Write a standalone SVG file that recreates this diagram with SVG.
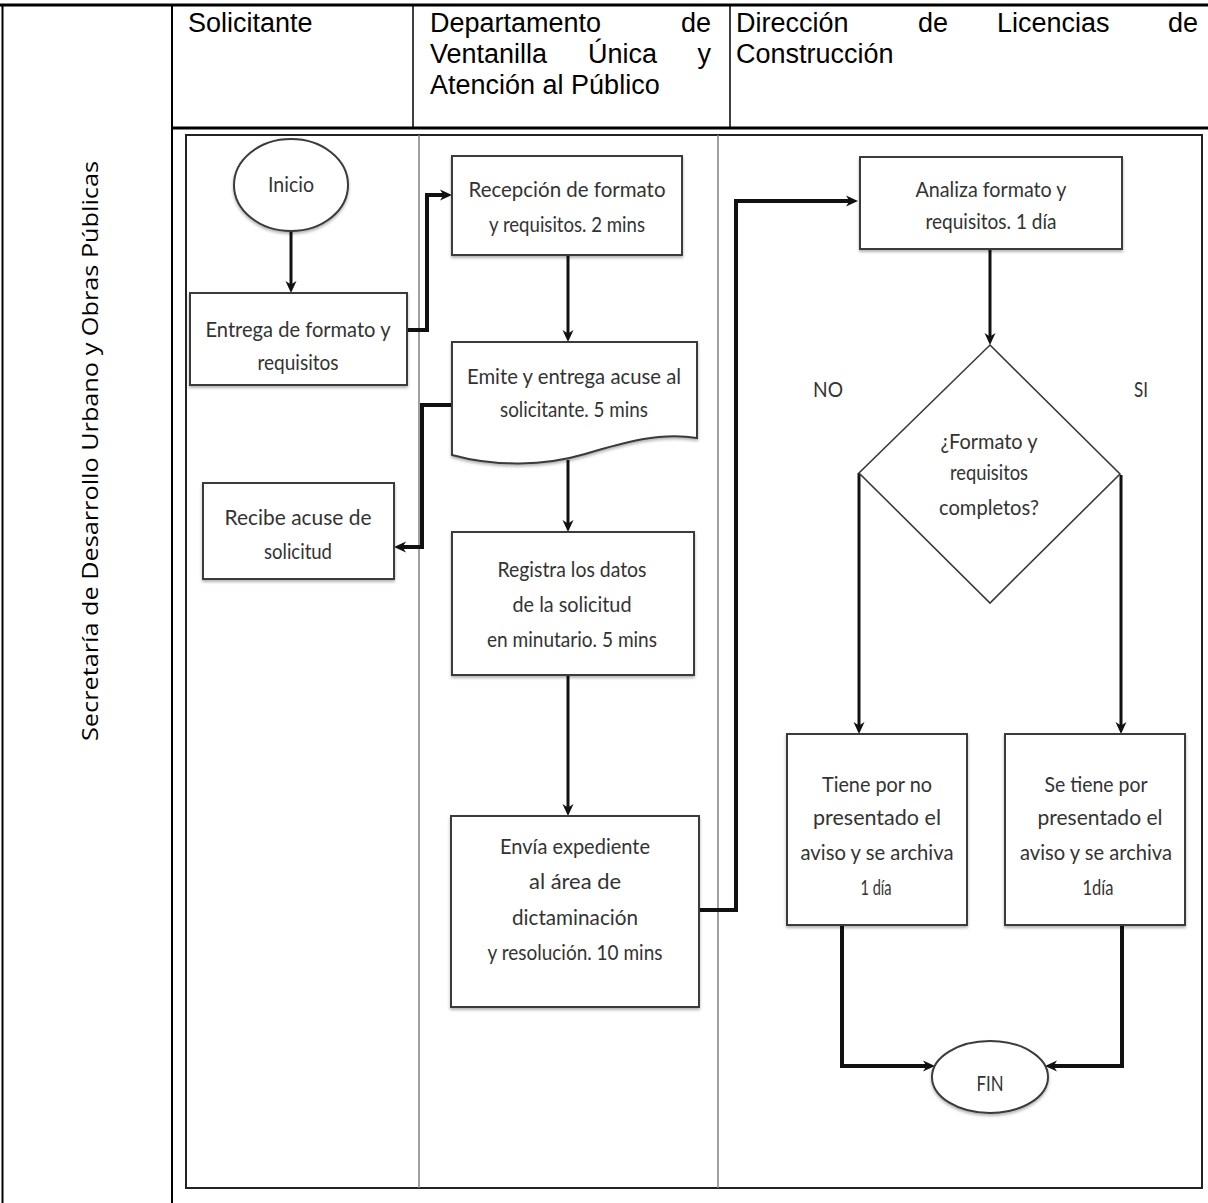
<svg xmlns="http://www.w3.org/2000/svg" width="1208" height="1203" viewBox="0 0 1208 1203">
<defs>
<style>
.hdr{font-family:"Liberation Sans",Arial,sans-serif;font-size:27px;fill:#000}
.side{font-family:"Open Sans","Noto Sans",sans-serif;font-size:22px;fill:#000}
.t{font-family:Lato,"Open Sans",sans-serif;font-size:21px;fill:#333;text-anchor:middle}
.box{fill:#fff;stroke:#3a3a3a;stroke-width:2;filter:url(#sh)}
.dia{fill:#fff;stroke:#3a3a3a;stroke-width:1.6}
.grid{stroke:#000;fill:none}
.lane{stroke:#808080;stroke-width:1.5;fill:none}
.c{fill:none;stroke:#111;stroke-width:4;marker-end:url(#ah)}
.v{fill:none;stroke:#111;stroke-width:3;marker-end:url(#ah)}
</style>
<filter id="sh" x="-10%" y="-10%" width="120%" height="130%">
<feDropShadow dx="0" dy="2" stdDeviation="1.5" flood-color="#000" flood-opacity="0.3"/>
</filter>
<marker id="ah" viewBox="0 0 12 12" refX="6" refY="6" markerWidth="12" markerHeight="12" markerUnits="userSpaceOnUse" orient="auto">
<path d="M0,0.5 L12,6 L0,11.5 L3.5,6 Z" fill="#111"/>
</marker>
</defs>
<rect width="1208" height="1203" fill="#fff"/>

<g id="table">
<line class="grid" x1="0" y1="5" x2="1208" y2="5" stroke-width="3"/>
<line class="grid" x1="2.5" y1="4" x2="2.5" y2="1203" stroke-width="2"/>
<line class="grid" x1="172" y1="4" x2="172" y2="1203" stroke-width="2"/>
<line class="grid" x1="413" y1="5" x2="413" y2="128" stroke-width="1.5"/>
<line class="grid" x1="730" y1="5" x2="730" y2="128" stroke-width="1.5"/>
<line class="grid" x1="171" y1="128" x2="1208" y2="128" stroke-width="3"/>
</g>

<g id="header">
<text class="hdr" x="188" y="32">Solicitante</text>
<text class="hdr" x="430" y="32">Departamento</text>
<text class="hdr" x="711" y="32" text-anchor="end">de</text>
<text class="hdr" x="430" y="63">Ventanilla</text>
<text class="hdr" x="588" y="63">Única</text>
<text class="hdr" x="711" y="63" text-anchor="end">y</text>
<text class="hdr" x="430" y="94">Atención al Público</text>
<text class="hdr" x="736" y="32">Dirección</text>
<text class="hdr" x="918" y="32">de</text>
<text class="hdr" x="997" y="32">Licencias</text>
<text class="hdr" x="1198" y="32" text-anchor="end">de</text>
<text class="hdr" x="736" y="63">Construcción</text>
</g>

<g id="side-label">
<text class="side" x="98" y="451" text-anchor="middle" transform="rotate(-90 98 451)" textLength="580" lengthAdjust="spacingAndGlyphs">Secretaría de Desarrollo Urbano y Obras Públicas</text>
</g>

<g id="frame">
<rect x="186" y="135" width="1016" height="1053" fill="none" stroke="#222" stroke-width="2"/>
<line class="lane" x1="419" y1="135" x2="419" y2="1188"/>
<line class="lane" x1="718" y1="135" x2="718" y2="1188"/>
</g>

<g id="connectors">
<path class="v" d="M291,231 V287"/>
<path class="c" d="M407,330 H427 V195 H446"/>
<path class="v" d="M568,255 V336"/>
<path class="c" d="M452,405 H422 V547 H400"/>
<path class="v" d="M568,460 V526"/>
<path class="v" d="M568,675 V810"/>
<path class="c" d="M699,910 H736 V201 H852"/>
<path class="v" d="M990,249 V339"/>
<path class="v" d="M859,473 V728"/>
<path class="v" d="M1121,475 V728"/>
<path class="c" d="M842,925 V1066 H929"/>
<path class="c" d="M1122,925 V1066 H1051"/>
</g>

<g id="inicio">
<ellipse class="box" cx="291" cy="185" rx="57" ry="46"/>
<text class="t" x="291" y="192" textLength="46" lengthAdjust="spacingAndGlyphs">Inicio</text>
</g>

<g id="entrega">
<rect class="box" x="190" y="293" width="217" height="92"/>
<text class="t" x="298" y="337" textLength="185" lengthAdjust="spacingAndGlyphs">Entrega de formato y</text>
<text class="t" x="298" y="370" textLength="81" lengthAdjust="spacingAndGlyphs">requisitos</text>
</g>

<g id="recepcion">
<rect class="box" x="452" y="156" width="230" height="99"/>
<text class="t" x="567" y="197" textLength="197" lengthAdjust="spacingAndGlyphs">Recepción de formato</text>
<text class="t" x="567" y="232" textLength="156" lengthAdjust="spacingAndGlyphs">y requisitos. 2 mins</text>
</g>

<g id="emite">
<path class="box" d="M452,342 H697 V438 C660,432 625,442 585,454 C545,466 495,467 452,455 Z"/>
<text class="t" x="574" y="384" textLength="214" lengthAdjust="spacingAndGlyphs">Emite y entrega acuse al</text>
<text class="t" x="574" y="417" textLength="148" lengthAdjust="spacingAndGlyphs">solicitante. 5 mins</text>
</g>

<g id="recibe">
<rect class="box" x="203" y="483" width="191" height="96"/>
<text class="t" x="298" y="525" textLength="147" lengthAdjust="spacingAndGlyphs">Recibe acuse de</text>
<text class="t" x="298" y="559" textLength="68" lengthAdjust="spacingAndGlyphs">solicitud</text>
</g>

<g id="registra">
<rect class="box" x="452" y="532" width="242" height="143"/>
<text class="t" x="572" y="577" textLength="149" lengthAdjust="spacingAndGlyphs">Registra los datos</text>
<text class="t" x="572" y="612" textLength="119" lengthAdjust="spacingAndGlyphs">de la solicitud</text>
<text class="t" x="572" y="647" textLength="170" lengthAdjust="spacingAndGlyphs">en minutario. 5 mins</text>
</g>

<g id="envia">
<rect class="box" x="451" y="816" width="248" height="191"/>
<text class="t" x="575" y="854" textLength="150" lengthAdjust="spacingAndGlyphs">Envía expediente</text>
<text class="t" x="575" y="889" textLength="92" lengthAdjust="spacingAndGlyphs">al área de</text>
<text class="t" x="575" y="925" textLength="126" lengthAdjust="spacingAndGlyphs">dictaminación</text>
<text class="t" x="575" y="960" textLength="175" lengthAdjust="spacingAndGlyphs">y resolución. 10 mins</text>
</g>

<g id="analiza">
<rect class="box" x="860" y="157" width="262" height="92"/>
<text class="t" x="991" y="197" textLength="151" lengthAdjust="spacingAndGlyphs">Analiza formato y</text>
<text class="t" x="991" y="229" textLength="131" lengthAdjust="spacingAndGlyphs">requisitos. 1 día</text>
</g>

<g id="decision">
<polygon class="dia" points="990,345 1120,474 990,603 859,473"/>
<text class="t" x="989" y="449" textLength="97" lengthAdjust="spacingAndGlyphs">¿Formato y</text>
<text class="t" x="989" y="480" textLength="78" lengthAdjust="spacingAndGlyphs">requisitos</text>
<text class="t" x="989" y="515" textLength="100" lengthAdjust="spacingAndGlyphs">completos?</text>
</g>

<g id="labels">
<text class="t" x="828" y="397" textLength="30" lengthAdjust="spacingAndGlyphs">NO</text>
<text class="t" x="1141" y="397" textLength="14" lengthAdjust="spacingAndGlyphs">SI</text>
</g>

<g id="tiene-no">
<rect class="box" x="787" y="734" width="180" height="191"/>
<text class="t" x="877" y="792" textLength="110" lengthAdjust="spacingAndGlyphs">Tiene por no</text>
<text class="t" x="877" y="825" textLength="128" lengthAdjust="spacingAndGlyphs">presentado el</text>
<text class="t" x="877" y="860" textLength="153" lengthAdjust="spacingAndGlyphs">aviso y se archiva</text>
<text class="t" x="876" y="895" textLength="31" lengthAdjust="spacingAndGlyphs">1 día</text>
</g>

<g id="se-tiene">
<rect class="box" x="1005" y="734" width="180" height="191"/>
<text class="t" x="1096" y="792" textLength="103" lengthAdjust="spacingAndGlyphs">Se tiene por</text>
<text class="t" x="1100" y="825" textLength="125" lengthAdjust="spacingAndGlyphs">presentado el</text>
<text class="t" x="1096" y="860" textLength="152" lengthAdjust="spacingAndGlyphs">aviso y se archiva</text>
<text class="t" x="1098" y="895" textLength="31" lengthAdjust="spacingAndGlyphs">1día</text>
</g>

<g id="fin">
<ellipse class="box" cx="990" cy="1077" rx="58" ry="36"/>
<text class="t" x="990" y="1091" textLength="27" lengthAdjust="spacingAndGlyphs">FIN</text>
</g>
</svg>
